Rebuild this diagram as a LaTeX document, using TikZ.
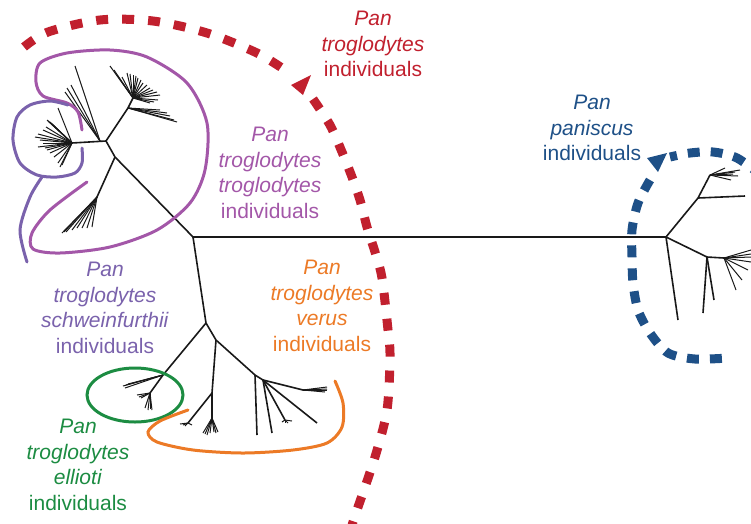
\documentclass[tikz,border=0pt]{standalone}
\usepackage{fontspec}
\setmainfont{Liberation Sans}
\definecolor{ptred}{RGB}{193,32,46}
\definecolor{ttpurple}{RGB}{163,87,168}
\definecolor{tsviolet}{RGB}{122,98,172}
\definecolor{tvorange}{RGB}{236,122,38}
\definecolor{tegreen}{RGB}{28,140,66}
\definecolor{ppblue}{RGB}{30,80,135}
\usetikzlibrary{arrows.meta}
\tikzset{
  branch/.style={line width=1.6pt, black!90},
  twig/.style={line width=1pt, black!90},
  outline/.style={line width=3pt, line cap=round},
  grouplabel/.style={align=center, inner sep=0pt,
    font=\fontsize{21}{25.5}\selectfont},
  reddash/.style={ptred, line width=9pt, dash pattern=on 12pt off 14pt},
  bluedash/.style={ppblue, line width=9pt, dash pattern=on 12pt off 11pt},
}

\begin{document}
\begin{tikzpicture}[x=1pt, y=-1pt]
  \useasboundingbox (0,0) rectangle (751,523);

  % Tree junctions
  \coordinate (root) at (193,237);
  \coordinate (pp) at (666,237);
  \coordinate (tt) at (115,157);
  \coordinate (ttc) at (106,141);
  \coordinate (ttlow) at (97,197);
  \coordinate (ttup) at (128,108);
  \coordinate (ttfan) at (133,98);
  \coordinate (tslong) at (100,141);
  \coordinate (ts) at (72,143);
  \coordinate (low) at (206,323);
  \coordinate (te) at (163,375);
  \coordinate (tesub) at (150,393);
  \coordinate (tv) at (216,340);
  \coordinate (tvm) at (212,393);
  \coordinate (tvsub) at (212,418);
  \coordinate (tvl) at (188,423);
  \coordinate (tvj) at (255,375);
  \coordinate (tvk) at (263,380);
  \coordinate (tvr) at (303,390);
  \coordinate (tvq) at (285,420);
  \coordinate (pa) at (698,198);
  \coordinate (pat) at (710,175);
  \coordinate (pb) at (707,257);
  \coordinate (pc) at (724,258);

  % Main branches
  \draw[branch] (ts) -- (ttc) -- (tt) -- (root) -- (pp);
  \draw[branch] (ttc) -- (ttup) -- (ttfan);
  \draw[branch] (tt) -- (ttlow);
  \draw[branch] (root) -- (low) -- (tv) -- (tvj) -- (tvk) -- (tvr);
  \draw[branch] (low) -- (te) -- (tesub);
  \draw[branch] (tv) -- (tvm) -- (tvsub);
  \draw[branch] (tvm) -- (tvl);
  \draw[branch] (tvj) -- (257,435);
  \draw[branch] (tvk) -- (272,433);
  \draw[branch] (tvk) -- (tvq);
  \draw[branch] (tvk) -- (317,423);
  \draw[branch] (pp) -- (pa) -- (pat);
  \draw[branch] (pa) -- (745,196);
  \draw[branch] (pp) -- (pb) -- (pc);
  \draw[branch] (pb) -- (703,313);
  \draw[branch] (pb) -- (714,300);
  \draw[branch] (pp) -- (678,320);

  % Leaf fans
  \foreach \x/\y in {62/233, 64/232, 66/232, 72/230, 77/228, 82/228, 87/228, 92/227}
    \draw[twig] (ttlow) -- (\x,\y);
  \foreach \x/\y in {110/66, 114/70, 117/75, 122/77, 127/73, 130/74, 133/75,
                     136/76, 138/78, 141/80, 143/83, 147/85, 150/88, 153/90,
                     157/92, 160/95, 158/100, 154/102, 150/103}
    \draw[twig] (ttfan) -- (\x,\y);
  \foreach \x/\y in {177/122, 174/120, 170/116, 167/113, 160/110}
    \draw[twig] (ttup) -- (\x,\y);
  \foreach \x/\y in {75/66, 71/85, 67/88, 65/92}
    \draw[twig] (tslong) -- (\x,\y);
  \foreach \x/\y in {58/108, 47/120, 48/121, 50/122, 52/124, 53/125, 46/127,
                     43/130, 38/134, 35/137, 40/140, 43/143, 38/147, 45/148,
                     47/150, 50/153, 54/157, 58/163, 62/165, 60/167}
    \draw[twig] (ts) -- (\x,\y);
  \foreach \x/\y in {123/386, 125/388, 128/384, 126/385}
    \draw[twig] (te) -- (\x,\y);
  \foreach \x/\y in {137/395, 139/397, 141/398, 145/408, 148/410, 150/409, 152/410}
    \draw[twig] (tesub) -- (\x,\y);
  \foreach \x/\y in {203/433, 205/434, 207/435, 210/433, 214/432, 216/433, 218/432}
    \draw[twig] (tvsub) -- (\x,\y);
  \foreach \x/\y in {180/424, 183/425, 185/426, 192/425}
    \draw[twig] (tvl) -- (\x,\y);
  \foreach \x/\y in {282/422, 285/423, 288/423, 292/421}
    \draw[twig] (tvq) -- (\x,\y);
  \foreach \x/\y in {327/387, 327/389, 327/390, 325/392, 320/389}
    \draw[twig] (tvr) -- (\x,\y);
  \foreach \x/\y in {735/172, 738/176, 731/180, 725/168, 740/170, 733/174}
    \draw[twig] (pat) -- (\x,\y);
  \foreach \x/\y in {751/250, 751/254, 751/257, 751/262, 748/270, 742/280, 736/290}
    \draw[twig] (pc) -- (\x,\y);

  % Subspecies outlines
  \draw[outline, ttpurple] plot[smooth] coordinates {(82,130) (78,112) (67,103)
    (43,96) (36,82) (40,63) (67,53) (110,50) (147,57) (187,83) (207,123)
    (205,170) (190,203) (157,230) (110,247) (60,253) (33,249) (32,233)
    (50,210) (87,182)};
  \draw[outline, tsviolet] plot[smooth] coordinates {(82,148) (82,163) (75,173)
    (57,177) (37,175) (20,163) (13,140) (17,117) (30,105) (50,101) (68,105)};
  \draw[outline, tsviolet] plot[smooth] coordinates {(42,177) (30,197) (20,230)
    (27,262)};
  \draw[outline, tegreen] (135,395) ellipse [x radius=48, y radius=27];
  \draw[outline, tvorange] plot[smooth] coordinates {(188,410) (160,421)
    (148,432) (157,442) (193,450) (243,453) (293,450) (327,443) (342,427)
    (343,403) (335,381)};

  % Species boundaries
  \draw[reddash] plot[smooth] coordinates {(24,47) (48,32) (100,20) (153,21)
    (207,33) (257,53) (288,72)};
  \fill[ptred] (311,75) -- (303,95) -- (291,85) -- cycle;
  \draw[reddash] plot[smooth] coordinates {(313,99) (330,125) (342,152)
    (352,177) (360,200) (367,227) (375,252) (382,278) (388,330) (390,357)
    (387,410) (375,457) (357,510) (352,525)};
  \draw[bluedash] plot[smooth] coordinates {(762,176) (737,158) (713,152)
    (690,153) (670,157)};
  \fill[ppblue] (647,158) -- (667,153) -- (658,172) -- cycle;
  \draw[bluedash] plot[smooth] coordinates {(650,180) (638,203) (632,230)
    (632,257) (633,283) (638,310) (650,333) (668,353) (695,359) (728,358)};

  % Labels
  \node[grouplabel, text=ptred] (ptlab) at (373,44)
    {\textit{Pan}\\\textit{troglodytes}\\individuals};
  \node[grouplabel, text=ppblue] (pplab) at (592,128)
    {\textit{Pan}\\\textit{paniscus}\\individuals};
  \node[grouplabel, text=ttpurple] (ttlab) at (270,173)
    {\textit{Pan}\\\textit{troglodytes}\\\textit{troglodytes}\\individuals};
  \node[grouplabel, text=tsviolet] (tslab) at (105,308)
    {\textit{Pan}\\\textit{troglodytes}\\\textit{schweinfurthii}\\individuals};
  \node[grouplabel, text=tvorange] (tvlab) at (322,306)
    {\textit{Pan}\\\textit{troglodytes}\\\textit{verus}\\individuals};
  \node[grouplabel, text=tegreen] (telab) at (78,465)
    {\textit{Pan}\\\textit{troglodytes}\\\textit{ellioti}\\individuals};
\end{tikzpicture}
\end{document}
